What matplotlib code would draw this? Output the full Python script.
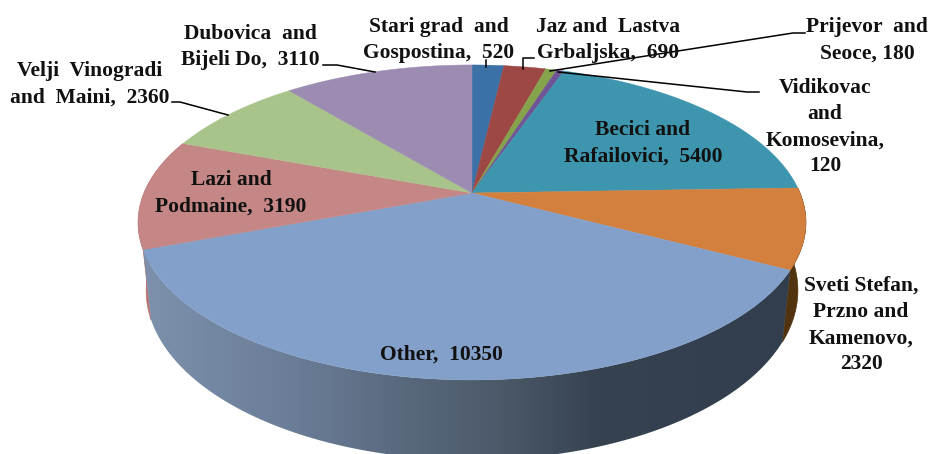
import numpy as np
import matplotlib
matplotlib.use("Agg")
import matplotlib.pyplot as plt
from matplotlib.colors import LinearSegmentedColormap
from matplotlib.patches import Polygon

# clockwise from 12 o'clock
labels = [
    "Stari grad  and\nGospostina,  520",
    "Jaz and  Lastva\nGrbaljska,  690",
    "Prijevor  and\nSeoce, 180",
    "Vidikovac\nand\nKomosevina,\n120",
    "Becici and\nRafailovici,  5400",
    "Sveti Stefan,\nPrzno and\nKamenovo,\n2320",
    "Other,  10350",
    "Lazi and\nPodmaine,  3190",
    "Velji  Vinogradi\nand  Maini,  2360",
    "Dubovica  and\nBijeli Do,  3110",
]
values = [520, 690, 180, 120, 5400, 2320, 10350, 3190, 2360, 3110]
colors = ["#3b71a6", "#9e4845", "#85a34b", "#6f5595", "#3d96ae",
          "#d3803f", "#82a0c9", "#c58785", "#a9c48b", "#9c8cb2"]
side_colors = {5: "#52330f", 7: "#b97472"}

label_xy = [(439, 40), (608, 40), (867, 40), (825, 127), (643, 143),
            (861, 325), (441, 355), (231, 193), (90, 84), (250, 47)]

# leader lines, pixel coords
leaders = [
    [(486, 60), (486, 67)],
    [(534, 58), (523, 58), (523, 69)],
    [(550, 71), (793, 33), (805, 33)],
    [(558, 72), (747, 92), (759, 92)],
    [(323, 65), (337, 65), (375, 72)],
    [(172, 102), (180, 102), (228, 115)],
]

CX, CY = 472, 193
RX, RY = 328, 152
K = 0.187  # perspective, back of the pie is squeezed
LOW_CY, LOW_SX, LOW_SY = 258.6, 0.976, 1.077


def top_xy(deg):
    a = np.radians(deg)
    u, v = np.sin(a), np.cos(a)
    w = 1 + K * v
    return CX + RX * u / w, CY - RY * v / w


def low_xy(deg):
    x, y = top_xy(deg)
    return CX + LOW_SX * (x - CX), LOW_CY + LOW_SY * (y - CY)


def side_poly(a0, a1):
    t = np.linspace(a0, a1, 120)
    xt, yt = top_xy(t)
    xl, yl = low_xy(t)
    return np.r_[np.c_[xt, yt], np.c_[xl, yl][::-1]]


edges = np.r_[0, np.cumsum(values)] / np.sum(values) * 360

fig = plt.figure(figsize=(9.3, 4.54), dpi=100)
ax = fig.add_axes([0, 0, 1, 1])
ax.set_xlim(0, 930)
ax.set_ylim(454, 0)
ax.axis("off")

# side walls
for i, c in side_colors.items():
    ax.add_patch(Polygon(side_poly(edges[i], edges[i + 1]), fc=c, ec=c, lw=0.5, zorder=1))

other_poly = Polygon(side_poly(edges[6], edges[7]), fc="none", ec="none", transform=ax.transData)
ax.add_patch(other_poly)
cmap = LinearSegmentedColormap.from_list("side", [
    (0.0, "#7d91ad"), (0.24, "#6a7c96"), (0.43, "#566579"),
    (0.55, "#4b5969"), (0.70, "#364250"), (1.0, "#323e4e")])
img = ax.imshow(np.linspace(0, 1, 300)[None, :], cmap=cmap, extent=(140, 795, 454, 240),
                aspect="auto", zorder=2)
img.set_clip_path(other_poly)
ax.set_xlim(0, 930)
ax.set_ylim(454, 0)

# top face
for i, c in enumerate(colors):
    t = np.linspace(edges[i], edges[i + 1], 100)
    x, y = top_xy(t)
    pts = np.r_[[[CX, CY]], np.c_[x, y]]
    ax.add_patch(Polygon(pts, fc=c, ec=c, lw=0.3, zorder=3))

for pts in leaders:
    xs, ys = zip(*pts)
    ax.plot(xs, ys, color="black", lw=1.1, zorder=4)

for s, (x, y) in zip(labels, label_xy):
    ax.text(x, y, s, ha="center", va="center", family="Liberation Serif",
            fontweight="bold", fontsize=15.5, linespacing=1.42, color="#111111", zorder=5)

fig.savefig("out.png", dpi=100)
